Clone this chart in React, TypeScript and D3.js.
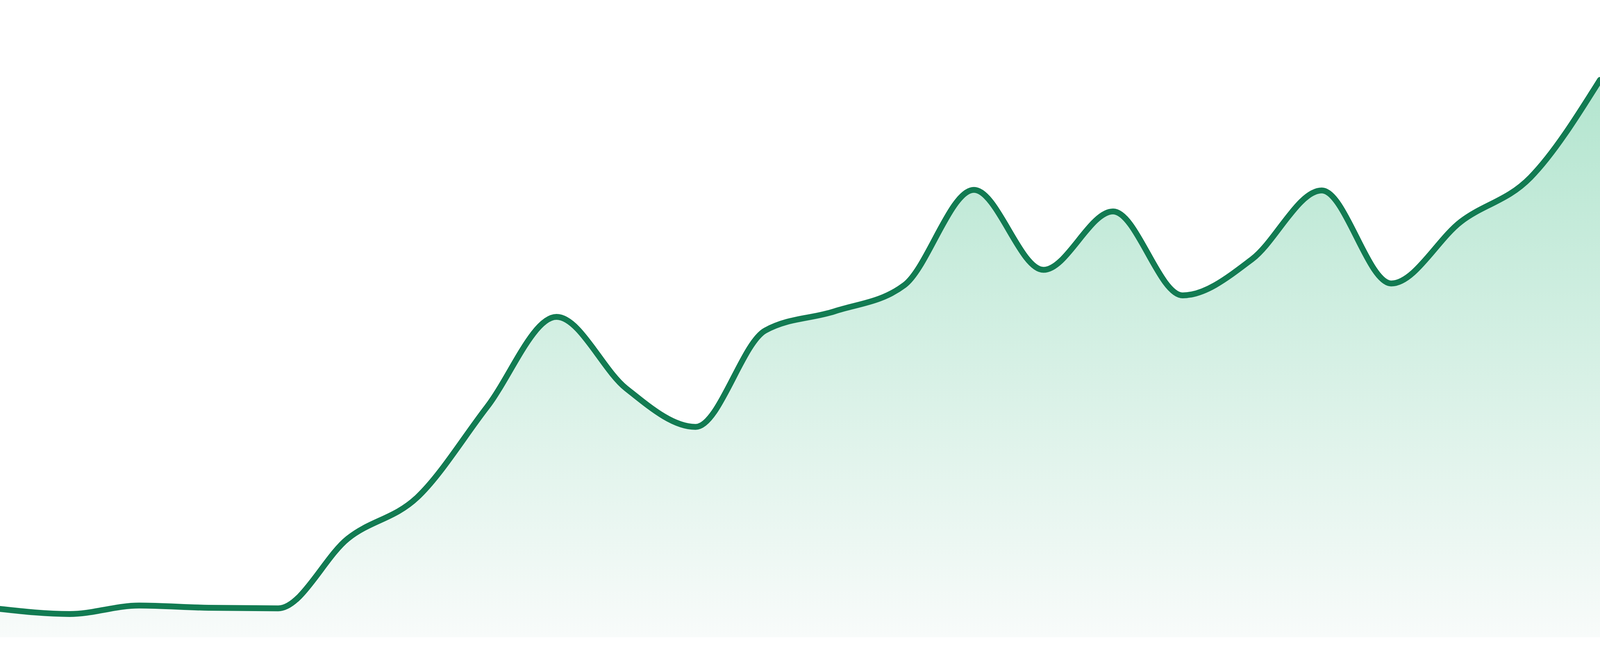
import * as d3 from "d3";
import React from "react";

// Series values (index = step along x)
const values = [
  5.0, 4.1, 5.6, 5.2, 5.1, 17.4, 24.7, 40.6, 56.5, 43.9, 37.1, 54.1,
  57.5, 62.1, 78.9, 64.8, 75.1, 60.3, 66.7, 78.8, 62.4, 73.3, 81.1, 98.3,
];
const yDomain = [0, 100];

// reference frame is 4800x1680; the plot is laid out in fractions of it
const REF_W = 4800;
const REF_H = 1680;
const BASELINE = 1632 / REF_H;
const TOP = 180 / REF_H;

const LINE_COLOR = "#127b52";
const FILL_TOP = "#b3e5cf";
const FILL_BOTTOM = "#f8fbfa";

const App: React.FC = () => {
  const svgRef = React.useRef<SVGSVGElement>(null);
  const [size, setSize] = React.useState({ w: REF_W, h: REF_H });

  React.useEffect(() => {
    document.body.style.margin = "0";
    document.body.style.overflow = "hidden";
    setSize({ w: window.innerWidth || REF_W, h: window.innerHeight || REF_H });
  }, []);

  React.useEffect(() => {
    if (!svgRef.current) return;
    const { w, h } = size;
    const svg = d3.select(svgRef.current);
    svg.selectAll("*").remove();

    const x = d3
      .scaleLinear()
      .domain([0, values.length - 1])
      .range([0, w]);

    const y = d3.scaleLinear().domain(yDomain).range([h * BASELINE, h * TOP]);

    const defs = svg.append("defs");
    const gradient = defs
      .append("linearGradient")
      .attr("id", "areaGrad")
      .attr("x1", "0%")
      .attr("x2", "0%")
      .attr("y1", "0%")
      .attr("y2", "100%");
    gradient.append("stop").attr("offset", "0%").attr("stop-color", FILL_TOP);
    gradient.append("stop").attr("offset", "100%").attr("stop-color", FILL_BOTTOM);

    const area = d3
      .area<number>()
      .x((_, i) => x(i))
      .y0(y(0))
      .y1((d) => y(d))
      .curve(d3.curveMonotoneX);

    const line = d3
      .line<number>()
      .x((_, i) => x(i))
      .y((d) => y(d))
      .curve(d3.curveMonotoneX);

    svg.append("path").datum(values).attr("fill", "url(#areaGrad)").attr("d", area);

    svg
      .append("path")
      .datum(values)
      .attr("fill", "none")
      .attr("stroke", LINE_COLOR)
      .attr("stroke-width", 15 * (h / REF_H))
      .attr("stroke-linejoin", "round")
      .attr("stroke-linecap", "round")
      .attr("d", line);
  }, [size]);

  return (
    <svg
      ref={svgRef}
      width={size.w}
      height={size.h}
      style={{ display: "block", background: "#ffffff" }}
    />
  );
};

export default App;
